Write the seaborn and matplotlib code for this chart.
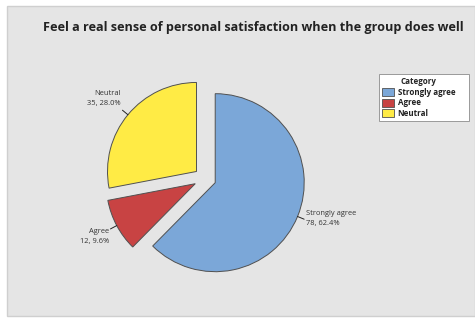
import numpy as np
import matplotlib
matplotlib.use("Agg")
import matplotlib.pyplot as plt
from matplotlib.patches import Rectangle, Patch
import seaborn as sns

categories = ["Strongly agree", "Agree", "Neutral"]
counts = [78, 12, 35]
colors = ["#7BA7D8", "#C84343", "#FFEB45"]
title = "Feel a real sense of personal satisfaction when the group does well"

sns.set_theme(style="white")
plt.rcParams["font.family"] = ["Open Sans", "DejaVu Sans"]

W, H = 475, 322
fig = plt.figure(figsize=(W / 100, H / 100), dpi=100)
fig.patch.set_facecolor("white")

# gray chart panel
fig.patches.append(Rectangle((7 / W, 1 - 316 / H), 1 - 7 / W, (316 - 6) / H,
                             transform=fig.transFigure, facecolor="#E5E5E5",
                             edgecolor="#CFCFCF", lw=1.0, zorder=-5))

fig.text(253 / W, 1 - 28 / H, title, ha="center", va="center",
         fontsize=9.1, fontweight="bold", color="#222222")

# pie axes: center (205,178) px, radius 89 px, limits +/-1.5
R = 89
side = 3 * R
ax = fig.add_axes([(205 - side / 2) / W, (H - 178.5 - side / 2) / H, side / W, side / H])
ax.set_zorder(2)
ax.set_facecolor("none")
explode = [0.124] * len(counts)
wedges, _ = ax.pie(counts, colors=colors, startangle=90, counterclock=False,
                   explode=explode, radius=1.0,
                   wedgeprops=dict(edgecolor="#505050", linewidth=0.7))
ax.set_xlim(-1.5, 1.5)
ax.set_ylim(-1.5, 1.5)
ax.set_aspect("equal")
ax.axis("off")

total = sum(counts)
label_cfg = {
    "Strongly agree": dict(ha="left", va="center", off=(1.5, 0.4)),
    "Agree": dict(ha="right", va="top", off=(-1, 1.0)),
    "Neutral": dict(ha="right", va="bottom", off=(-1, 2.2)),
}
for w, cat, n in zip(wedges, categories, counts):
    ang = np.deg2rad((w.theta1 + w.theta2) / 2)
    cx, cy = w.center
    d = np.array([np.cos(ang), np.sin(ang)])
    p = np.array([cx, cy]) + 1.0 * d
    q = np.array([cx, cy]) + 1.08 * d
    ax.plot([p[0], q[0]], [p[1], q[1]], color="#222222", lw=0.7)
    cfg = label_cfg[cat]
    ax.annotate(f"{cat}\n{n}, {100 * n / total:.1f}%", xy=q, xytext=cfg["off"],
                textcoords="offset points", ha=cfg["ha"], va=cfg["va"],
                multialignment=cfg["ha"], fontsize=5.4, color="#333333",
                linespacing=1.6)

handles = [Patch(facecolor=c, edgecolor="#505050", lw=0.6) for c in colors]
leg = fig.legend(handles, categories, title="Category", loc="upper left",
                 bbox_to_anchor=(379 / W, 1 - 74 / H), frameon=False,
                 fontsize=5.8, title_fontsize=5.8, handlelength=1.5,
                 handleheight=1.1, handletextpad=0.4, labelspacing=0.2,
                 borderpad=0.4, borderaxespad=0)
for t in leg.get_texts():
    t.set_fontweight("bold")
    t.set_color("#222222")
leg.get_title().set_fontweight("bold")
leg.set_zorder(3)

fig.canvas.draw()
bb = leg.get_window_extent().transformed(fig.transFigure.inverted())
fig.patches.append(Rectangle((379 / W, bb.y0), 90 / W, bb.y1 - bb.y0,
                             transform=fig.transFigure, facecolor="white",
                             edgecolor="#9A9A9A", lw=0.7, zorder=1))

fig.savefig("out.png", dpi=100)
